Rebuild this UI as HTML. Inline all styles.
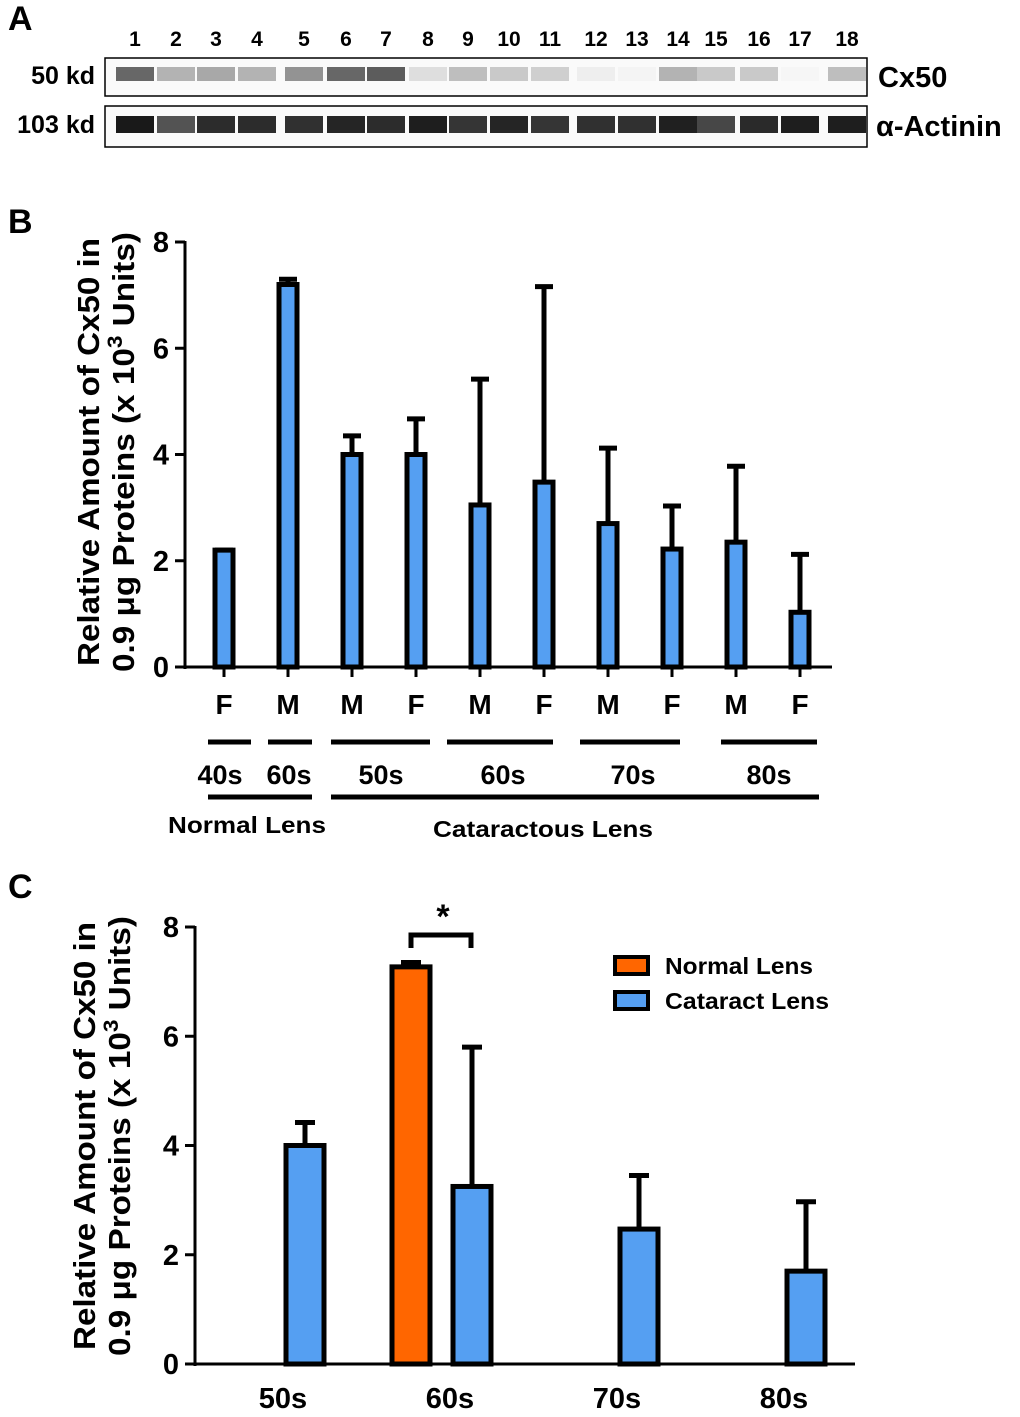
<!DOCTYPE html>
<html><head><meta charset="utf-8"><style>
body{margin:0;background:#fff}
svg{display:block;font-family:"Liberation Sans",Arial,sans-serif;font-weight:bold}
</style></head><body>
<svg id="fig" width="1020" height="1417" viewBox="0 0 1020 1417">
<text x="8" y="30" font-size="34">A</text>
<text x="8" y="233" font-size="34">B</text>
<text x="8" y="898" font-size="34">C</text>
<g id="blot">
<text x="95" y="84" font-size="25" text-anchor="end">50 kd</text>
<text x="95" y="133" font-size="25" text-anchor="end">103 kd</text>
<text x="878" y="87" font-size="29">Cx50</text>
<text x="876" y="136" font-size="29">α-Actinin</text>
</g>
<g id="chartB"></g>
<g id="chartC"></g>
</svg>
<script>
const NS="http://www.w3.org/2000/svg";
function mk(p,t,a,txt){const e=document.createElementNS(NS,t);for(const k in a)e.setAttribute(k,a[k]);if(txt!==undefined)e.textContent=txt;p.appendChild(e);return e;}

// ---- Panel A blot data ----
const laneLabels=["1","2","3","4","5","6","7","8","9","10","11","12","13","14","15","16","17","18"];
const laneCenters=[135,176,216,257,304,346,386,428,468,509,550,596,637,678,716,759,800,847];
const cx50Intensity=[0.7,0.35,0.4,0.35,0.5,0.7,0.75,0.15,0.3,0.25,0.22,0.08,0.05,0.35,0.25,0.25,0.04,0.3];
const actininIntensity=[1,0.75,0.92,0.92,0.9,0.95,0.92,0.98,0.88,0.95,0.88,0.9,0.9,0.97,0.8,0.93,0.98,0.98];
const blot=document.getElementById('blot');
mk(blot,'rect',{x:105,y:58,width:762,height:38,fill:'#fafafa',stroke:'#000','stroke-width':1.5});
mk(blot,'rect',{x:105,y:106,width:762,height:41,fill:'#fafafa',stroke:'#000','stroke-width':1.5});
laneLabels.forEach((l,i)=>{
  const t=mk(blot,'text',{x:laneCenters[i],y:46,'font-size':21,'text-anchor':'middle'},l);
  
  
  const g1=Math.round(255*(1-cx50Intensity[i]*0.85));
  const b1=mk(blot,'rect',{x:laneCenters[i]-19,y:67,width:38,height:14,fill:`rgb(${g1},${g1},${g1})`});
  
  
  const g2=Math.round(255*(1-actininIntensity[i]*0.9));
  const b2=mk(blot,'rect',{x:laneCenters[i]-19,y:116,width:38,height:17,fill:`rgb(${g2},${g2},${g2})`});
  
  
});

// ---- Panel B data ----
const bCategories=["F","M","M","F","M","F","M","F","M","F"];
const bValues=[2.2,7.2,4.0,4.0,3.05,3.48,2.7,2.22,2.35,1.03];
const bErrTop=[2.2,7.3,4.35,4.67,5.42,7.16,4.12,3.03,3.78,2.12];
const bYTicks=[0,2,4,6,8];
const BLUE='#559ff2',ORANGE='#ff6600';
function yTitle(g,cx,cy,prefix){
  const yt=mk(g,'text',{transform:`translate(${cx},${cy}) rotate(-90)`,'font-size':31,'text-anchor':'middle',textLength:428,lengthAdjust:'spacingAndGlyphs'},'Relative Amount of Cx50 in');
  
  const yt2=mk(g,'text',{transform:`translate(${cx+35},${cy}) rotate(-90)`,'font-size':31,'text-anchor':'middle',textLength:440,lengthAdjust:'spacingAndGlyphs'});
  yt2.innerHTML='0.9 μg Proteins (x 10<tspan dy="-12" font-size="21">3</tspan><tspan dy="12"> Units)</tspan>';
  
}
(function(){
  const g=document.getElementById('chartB');
  const y0=667,y8=242,xL=185,xR=832;
  const y=v=>y0-(y0-y8)*v/8;
  const x=i=>224+i*64;
  mk(g,'line',{x1:xL,y1:y8-1,x2:xL,y2:y0+2,stroke:'#000','stroke-width':3});
  mk(g,'line',{x1:xL,y1:y0,x2:xR,y2:y0,stroke:'#000','stroke-width':3});
  bYTicks.forEach(v=>{
    mk(g,'line',{x1:xL-10,y1:y(v),x2:xL,y2:y(v),stroke:'#000','stroke-width':3});
    const t=mk(g,'text',{x:xL-16,y:y(v)+10,'font-size':29,'text-anchor':'end'},v);
    
    
  });
  bValues.forEach((v,i)=>{
    const cx=x(i);
    mk(g,'line',{x1:cx,y1:y(bErrTop[i]),x2:cx,y2:y(v),stroke:'#000','stroke-width':5});
    mk(g,'line',{x1:cx-9,y1:y(bErrTop[i]),x2:cx+9,y2:y(bErrTop[i]),stroke:'#000','stroke-width':5});
    const r=mk(g,'rect',{x:cx-9,y:y(v),width:18,height:y0-y(v),fill:BLUE,stroke:'#000','stroke-width':5});
    
    
    mk(g,'line',{x1:cx,y1:y0,x2:cx,y2:y0+10,stroke:'#000','stroke-width':3});
    const t=mk(g,'text',{x:cx,y:714,'font-size':28,'text-anchor':'middle'},bCategories[i]);
    
    
  });
  const segs=[[208,251],[268,312],[331,430],[447,553],[580,680],[721,817]];
  const ages=["40s","60s","50s","60s","70s","80s"];
  const ageX=[220,289,381,503,633,769];
  segs.forEach((s,i)=>{
    mk(g,'line',{x1:s[0],y1:742,x2:s[1],y2:742,stroke:'#000','stroke-width':5});
    const t=mk(g,'text',{x:ageX[i],y:784,'font-size':27,'text-anchor':'middle'},ages[i]);
    
    
  });
  mk(g,'line',{x1:208,y1:797,x2:312,y2:797,stroke:'#000','stroke-width':5});
  mk(g,'line',{x1:331,y1:797,x2:819,y2:797,stroke:'#000','stroke-width':5});
  const n=mk(g,'text',{x:247,y:833,'font-size':23,'text-anchor':'middle',textLength:158,lengthAdjust:'spacingAndGlyphs'},'Normal Lens');
  
  const c=mk(g,'text',{x:543,y:837,'font-size':23,'text-anchor':'middle',textLength:220,lengthAdjust:'spacingAndGlyphs'},'Cataractous Lens');
  
  yTitle(g,99,452,'b');
})();

// ---- Panel C data ----
const cCategories=["50s","60s","70s","80s"];
const cNormal=[null,7.27,null,null];
const cNormalErr=[null,7.35,null,null];
const cCataract=[4.0,3.25,2.47,1.7];
const cCataractErr=[4.42,5.8,3.45,2.97];
const cYTicks=[0,2,4,6,8];
(function(){
  const g=document.getElementById('chartC');
  const y0=1364,y8=927,xL=195,xR=855;
  const y=v=>y0-(y0-y8)*v/8;
  const x=i=>283+i*167;
  mk(g,'line',{x1:xL,y1:y8-1,x2:xL,y2:y0+2,stroke:'#000','stroke-width':3});
  mk(g,'line',{x1:xL,y1:y0,x2:xR,y2:y0,stroke:'#000','stroke-width':3});
  cYTicks.forEach(v=>{
    mk(g,'line',{x1:xL-10,y1:y(v),x2:xL,y2:y(v),stroke:'#000','stroke-width':3});
    const t=mk(g,'text',{x:xL-16,y:y(v)+10,'font-size':29,'text-anchor':'end'},v);
    
    
  });
  function bar(cx,v,e,fill,name){
    mk(g,'line',{x1:cx,y1:y(e),x2:cx,y2:y(v),stroke:'#000','stroke-width':5});
    mk(g,'line',{x1:cx-10,y1:y(e),x2:cx+10,y2:y(e),stroke:'#000','stroke-width':5});
    const r=mk(g,'rect',{x:cx-19,y:y(v),width:38,height:y0-y(v),fill:fill,stroke:'#000','stroke-width':5});
    
    
  }
  cCategories.forEach((c,i)=>{
    if(cNormal[i]!==null) bar(x(i)-39,cNormal[i],cNormalErr[i],ORANGE,'c-normal-bar-'+c);
    bar(x(i)+22,cCataract[i],cCataractErr[i],BLUE,'c-cataract-bar-'+c);
    const t=mk(g,'text',{x:x(i),y:1408,'font-size':29,'text-anchor':'middle'},c);
    
    
  });
  mk(g,'path',{d:'M411,948 V935 H471 V948',fill:'none',stroke:'#000','stroke-width':5});
  const s=mk(g,'text',{x:443,y:928,'font-size':34,'text-anchor':'middle'},'*');
  
  const l1=mk(g,'rect',{x:615,y:957,width:33,height:17,fill:ORANGE,stroke:'#000','stroke-width':4});
  
  const l2=mk(g,'rect',{x:615,y:992,width:33,height:17,fill:BLUE,stroke:'#000','stroke-width':4});
  
  const t1=mk(g,'text',{x:665,y:974,'font-size':23,textLength:148,lengthAdjust:'spacingAndGlyphs'},'Normal Lens');
  
  const t2=mk(g,'text',{x:665,y:1009,'font-size':23,textLength:164,lengthAdjust:'spacingAndGlyphs'},'Cataract Lens');
  
  yTitle(g,95,1136,'c');
})();
</script>
</body></html>
